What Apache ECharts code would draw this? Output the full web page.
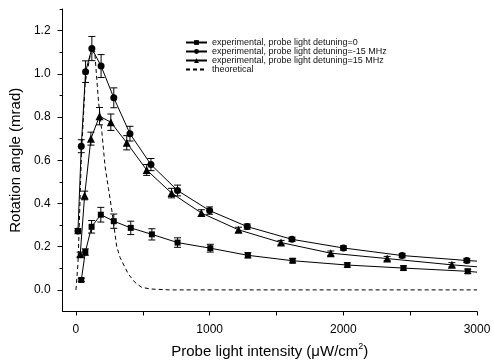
<!DOCTYPE html>
<html>
<head>
<meta charset="utf-8">
<script src="https://cdn.jsdelivr.net/npm/echarts@6/dist/echarts.min.js"></script>
<style>
  html, body { margin: 0; padding: 0; background: #fff; }
  #chart { width: 494px; height: 364px; }
</style>
</head>
<body>
<div id="chart"></div>
<script>
// detuning = 0 (squares)
const intensity0 = [40, 70, 117, 186, 283, 410, 568, 760, 1005, 1286, 1621, 2030, 2450, 2931];
const rotation0 = [0.046, 0.175, 0.292, 0.348, 0.318, 0.287, 0.257, 0.219, 0.193, 0.160, 0.135, 0.115, 0.101, 0.086];
const error0 = [0.008, 0.015, 0.029, 0.034, 0.033, 0.031, 0.026, 0.022, 0.018, 0.012, 0.01, 0.01, 0.01, 0.01];
const tail0 = 0.082;

// detuning = -15 MHz (circles)
const intensityM15 = [15, 40, 72, 119, 188, 283, 404, 561, 760, 1000, 1281, 1616, 2001, 2440, 2924];
const rotationM15 = [0.272, 0.665, 1.01, 1.117, 1.036, 0.889, 0.723, 0.58, 0.46, 0.367, 0.293, 0.234, 0.194, 0.159, 0.136];
const errorM15 = [0.012, 0.03, 0.05, 0.056, 0.053, 0.046, 0.034, 0.028, 0.025, 0.017, 0.012, 0.01, 0.01, 0.01, 0.01];
const tailM15 = 0.133;

// detuning = 15 MHz (triangles)
const intensityP15 = [32, 65, 112, 176, 261, 380, 529, 715, 938, 1216, 1534, 1906, 2328, 2812];
const rotationP15 = [0.165, 0.437, 0.70, 0.804, 0.776, 0.681, 0.555, 0.448, 0.356, 0.278, 0.219, 0.17, 0.145, 0.116];
const errorP15 = [0.01, 0.02, 0.03, 0.04, 0.038, 0.033, 0.025, 0.022, 0.015, 0.012, 0.01, 0.01, 0.01, 0.01];
const tailP15 = 0.107;

// theoretical curve
const theoryX = [0, 15, 25, 40, 69, 105, 140, 169, 194, 218, 243, 268, 305, 330, 392, 442, 491, 560, 700, 3000];
const theoryY = [0, 0.12, 0.3, 0.61, 0.96, 1.08, 1.105, 0.87, 0.73, 0.57, 0.47, 0.37, 0.2, 0.15, 0.073, 0.035, 0.012, 0.004, 0, 0];

const xMajor = [0, 1000, 2000, 3000];
const xMinor = [0, 500, 1000, 1500, 2000, 2500, 3000];
const yMajor = [0, 0.2, 0.4, 0.6, 0.8, 1.0, 1.2];
const yMinor = [0.1, 0.3, 0.5, 0.7, 0.9, 1.1, 1.3];

const names = [
  'experimental, probe light detuning=0',
  'experimental, probe light detuning=-15 MHz',
  'experimental, probe light detuning=15 MHz',
  'theoretical',
];

const FONT = 'Liberation Sans, Arial, sans-serif';

const pairs = (xs, ys) => xs.map((x, i) => [x, ys[i]]);
const withTail = (xs, ys, tail) =>
  pairs(xs, ys).concat([{ value: [3000, tail], symbol: 'none' }]);
const bars = (xs, ys, es) => xs.map((x, i) => [x, ys[i] - es[i], ys[i] + es[i]]);

const errorBar = (data) => ({
  type: 'custom',
  data: data,
  encode: { x: 0, y: [1, 2] },
  z: 1,
  silent: true,
  renderItem: (params, api) => {
    const lo = api.coord([api.value(0), api.value(1)]);
    const hi = api.coord([api.value(0), api.value(2)]);
    const w = 3.5;
    const st = { stroke: '#000', lineWidth: 1 };
    return {
      type: 'group',
      children: [
        { type: 'line', shape: { x1: lo[0], y1: lo[1], x2: hi[0], y2: hi[1] }, style: st },
        { type: 'line', shape: { x1: lo[0] - w, y1: lo[1], x2: lo[0] + w, y2: lo[1] }, style: st },
        { type: 'line', shape: { x1: hi[0] - w, y1: hi[1], x2: hi[0] + w, y2: hi[1] }, style: st },
      ],
    };
  },
});

const expLine = (name, symbol, size, data) => ({
  name: name,
  type: 'line',
  symbol: symbol,
  symbolSize: size,
  z: 3,
  lineStyle: { color: '#000', width: 1 },
  itemStyle: { color: '#000' },
  data: data,
});

const chart = echarts.init(document.getElementById('chart'));

chart.setOption({
  animation: false,
  textStyle: { fontFamily: FONT },
  grid: { left: 61, right: 17, top: 9, bottom: 49 },
  legend: {
    data: names.slice(0, 3).concat([{ name: names[3], itemStyle: { opacity: 0 } }]),
    orient: 'vertical',
    left: 180,
    top: 33,
    itemWidth: 21,
    itemHeight: 6,
    itemGap: 0,
    textStyle: { fontSize: 9, color: '#111', fontFamily: FONT, lineHeight: 7 },
  },
  xAxis: [
    {
      type: 'value',
      min: -100,
      max: 3000,
      splitLine: { show: false },
      axisLine: { onZero: false, lineStyle: { color: '#000', width: 1 } },
      axisTick: { customValues: xMinor, length: 4, lineStyle: { color: '#000' } },
      axisLabel: {
        customValues: xMajor,
        color: '#000',
        fontSize: 12,
        margin: 12,
        fontFamily: FONT,
        formatter: (v) => String(v),
      },
      name: 'Probe light intensity ({m|\u03bc}W/cm{s|2})',
      nameLocation: 'middle',
      nameGap: 31,
      nameTextStyle: {
        fontSize: 15,
        color: '#000',
        fontFamily: FONT,
        rich: {
          m: { fontSize: 15, color: '#000', fontFamily: FONT },
          s: { fontSize: 9, color: '#000', fontFamily: FONT, padding: [0, 0, 9, 0] },
        },
      },
    },
  ],
  yAxis: [
    {
      type: 'value',
      min: -0.1,
      max: 1.3,
      splitLine: { show: false },
      axisLine: { show: true, onZero: false, lineStyle: { color: '#000', width: 1 } },
      axisTick: { customValues: yMajor, length: 5, lineStyle: { color: '#000' } },
      axisLabel: {
        customValues: yMajor,
        color: '#000',
        fontSize: 12,
        margin: 12,
        fontFamily: FONT,
        formatter: (v) => v.toFixed(1),
      },
      name: 'Rotation angle (mrad)',
      nameLocation: 'middle',
      nameGap: 37,
      nameTextStyle: { fontSize: 15, color: '#000', fontFamily: FONT },
    },
    {
      type: 'value',
      min: -0.1,
      max: 1.3,
      position: 'left',
      splitLine: { show: false },
      axisLine: { show: false, onZero: false },
      axisTick: { customValues: yMinor, length: 3, lineStyle: { color: '#000' } },
      axisLabel: { show: false, customValues: yMinor },
    },
  ],
  series: [
    expLine(names[0], 'rect', 6, withTail(intensity0, rotation0, tail0)),
    expLine(names[1], 'circle', 7, withTail(intensityM15, rotationM15, tailM15)),
    expLine(names[2], 'triangle', 8, withTail(intensityP15, rotationP15, tailP15)),
    {
      name: names[3],
      type: 'line',
      symbol: 'none',
      z: 2,
      lineStyle: { color: '#000', width: 1, type: [4, 3] },
      itemStyle: { color: '#000' },
      data: pairs(theoryX, theoryY),
    },
    errorBar(bars(intensity0, rotation0, error0)),
    errorBar(bars(intensityM15, rotationM15, errorM15)),
    errorBar(bars(intensityP15, rotationP15, errorP15)),
  ],
});
</script>
</body>
</html>
